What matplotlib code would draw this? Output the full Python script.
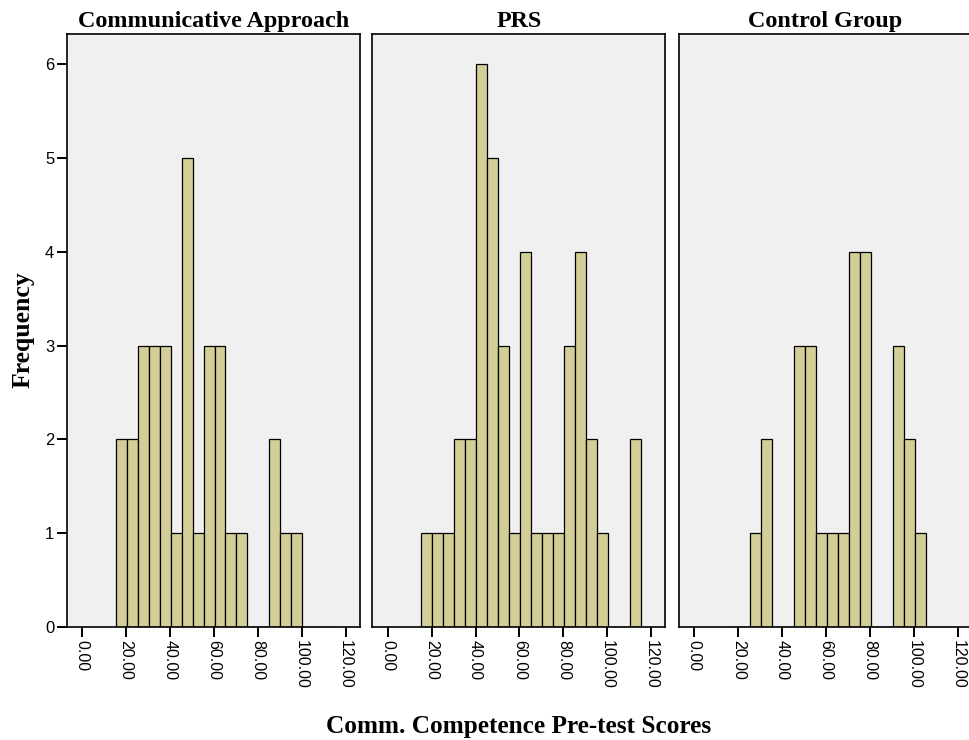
import matplotlib
matplotlib.use("Agg")
import matplotlib.pyplot as plt

# SPSS-style histograms, bins of width 5
groups = ["Communicative Approach", "PRS", "Control Group"]
bin_lefts = [15.3, 20.3, 25.3, 30.3, 35.3, 40.3, 45.3, 50.3, 55.3, 60.3,
             65.3, 70.3, 75.3, 80.3, 85.3, 90.3, 95.3, 100.3, 105.3, 110.3]
bin_width = 5
counts_comm = [2, 2, 3, 3, 3, 1, 5, 1, 3, 3, 1, 1, 0, 0, 2, 1, 1, 0, 0, 0]
counts_prs = [1, 1, 1, 2, 2, 6, 5, 3, 1, 4, 1, 1, 1, 3, 4, 2, 1, 0, 0, 2]
counts_ctrl = [0, 0, 1, 2, 0, 0, 3, 3, 1, 1, 1, 4, 4, 0, 0, 3, 2, 1, 0, 0]
all_counts = [counts_comm, counts_prs, counts_ctrl]

x_ticks = [0, 20, 40, 60, 80, 100, 120]
x_tick_labels = ["0.00", "20.00", "40.00", "60.00", "80.00", "100.00", "120.00"]
y_ticks = [0, 1, 2, 3, 4, 5, 6]

bar_color = "#D3CE98"
panel_bg = "#F0F0F0"
serif = ["Liberation Serif", "DejaVu Serif"]
sans = ["Liberation Sans", "DejaVu Sans"]

fig = plt.figure(figsize=(9.7, 7.4), dpi=100)
lefts = [66.7 / 970, 372.3 / 970, 679 / 970]
w = 293 / 970
bottom = 1 - 627 / 740
h = (627 - 34) / 740

for i, (name, counts) in enumerate(zip(groups, all_counts)):
    ax = fig.add_axes([lefts[i], bottom, w, h])
    ax.set_facecolor(panel_bg)
    ax.bar(bin_lefts, counts, width=bin_width, align="edge",
           color=bar_color, edgecolor="black", linewidth=0.9, zorder=2)
    ax.set_xlim(-7, 126.4)
    ax.set_ylim(0, 6.32)
    ax.set_xticks(x_ticks)
    ax.set_xticklabels(x_tick_labels, rotation=270, family=sans, fontsize=11.5)
    ax.tick_params(axis="x", direction="out", length=7, width=1.4, pad=2)
    ax.set_yticks(y_ticks)
    if i == 0:
        ax.set_yticklabels([str(v) for v in y_ticks], family=sans, fontsize=12)
        ax.tick_params(axis="y", direction="out", length=7, width=1.4, pad=2)
    else:
        ax.tick_params(axis="y", left=False, labelleft=False)
    for sp in ax.spines.values():
        sp.set_linewidth(1.2)
    ax.set_title(name, family=serif, fontweight="bold", fontsize=17.4, pad=5)

fig.text(0.5345, 1 - 733 / 740, "Comm. Competence Pre-test Scores", family=serif,
         fontweight="bold", fontsize=18.2, ha="center", va="baseline")
fig.text(0.024, 1 - 330 / 740, "Frequency", family=serif, fontweight="bold",
         fontsize=18.5, rotation=90, ha="center", va="center")

fig.savefig("out.png", dpi=100)
